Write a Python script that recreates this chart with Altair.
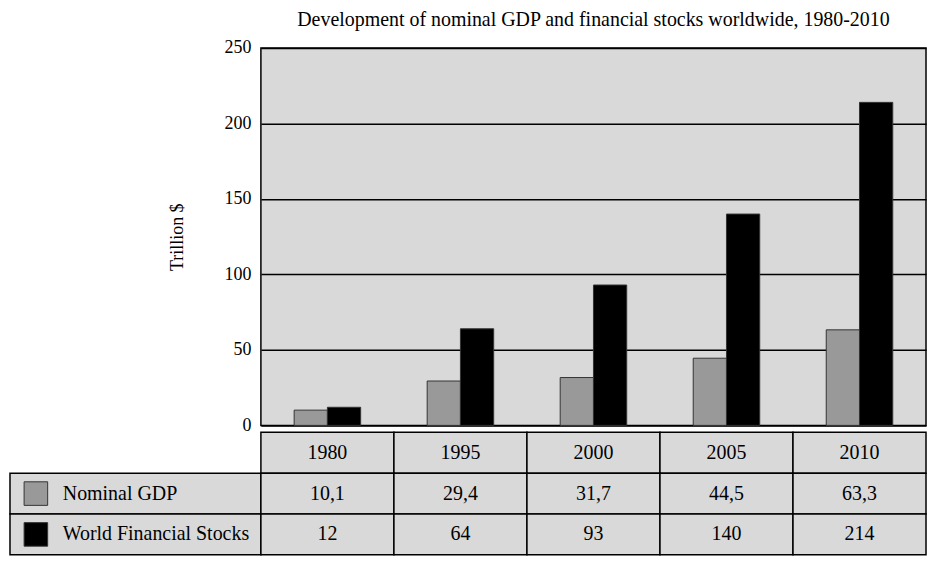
import altair as alt
import pandas as pd

# ---- data ----
years = ["1980", "1995", "2000", "2005", "2010"]
gdp = [10.1, 29.4, 31.7, 44.5, 63.3]
fin = [12, 64, 93, 140, 214]
series = ["Nominal GDP", "World Financial Stocks"]
gdp_labels = ["10,1", "29,4", "31,7", "44,5", "63,3"]
fin_labels = ["12", "64", "93", "140", "214"]
colors = ["#999999", "#000000"]
y_ticks = [0, 50, 100, 150, 200, 250]
rows = ["Year"] + series

FONT = "Liberation Serif"
GRAY_BG = "#d9d9d9"
PLOT_W = 668
LEG_W = 252
PLOT_H = 379
ROW_H = 41

bars_df = pd.DataFrame({
    "year": years * 2,
    "series": [series[0]] * len(years) + [series[1]] * len(years),
    "value": gdp + fin,
})

table_df = pd.DataFrame({
    "year": years * 3,
    "row": ["Year"] * 5 + [series[0]] * 5 + [series[1]] * 5,
    "label": years + gdp_labels + fin_labels,
})

leg_df = pd.DataFrame({"row": series, "col": ["legend"] * 2})

color_scale = alt.Scale(domain=series, range=colors)

# ---- bar chart ----
bars = alt.Chart(bars_df).mark_bar(stroke="#333333", strokeWidth=1).encode(
    x=alt.X("year:N", sort=years, axis=None,
            scale=alt.Scale(paddingInner=0, paddingOuter=0)),
    xOffset=alt.XOffset("series:N", sort=series,
                        scale=alt.Scale(paddingInner=0, paddingOuter=1)),
    y=alt.Y("value:Q", scale=alt.Scale(domain=[0, 250], nice=False),
            axis=alt.Axis(values=y_ticks, title="Trillion $", grid=True,
                          gridColor="#000000", gridWidth=1.5, ticks=False,
                          domain=False, labelFont=FONT, labelFontSize=18,
                          labelPadding=10, labelColor="#000000",
                          titleFont=FONT, titleFontSize=18,
                          titleFontWeight="normal", titlePadding=38,
                          titleColor="#000000")),
    color=alt.Color("series:N", scale=color_scale, legend=None),
).properties(
    width=PLOT_W, height=PLOT_H,
    view=alt.ViewBackground(fill=GRAY_BG, stroke="#000000", strokeWidth=1.5),
    title=alt.TitleParams(
        "Development of nominal GDP and financial stocks worldwide, 1980-2010",
        font=FONT, fontSize=20, fontWeight="normal", color="#000000",
        anchor="middle", offset=9),
)

spacer = alt.Chart(pd.DataFrame({"v": [0]})).mark_point(opacity=0).encode(
    x=alt.X("v:Q", axis=None), y=alt.Y("v:Q", axis=None)
).properties(width=LEG_W, height=PLOT_H,
             view=alt.ViewBackground(stroke="transparent"))

# ---- table: legend column ----
ybase = alt.Y("row:N", sort=rows, axis=None,
              scale=alt.Scale(domain=rows, paddingInner=0, paddingOuter=0))
xleg = alt.X("col:N", axis=None, scale=alt.Scale(paddingInner=0, paddingOuter=0))

leg_cells = alt.Chart(leg_df).mark_rect(
    fill=GRAY_BG, stroke="#000000", strokeWidth=1.5
).encode(x=xleg, y=ybase)

leg_swatch = alt.Chart(leg_df).mark_square(
    size=560, opacity=1, stroke="#333333", strokeWidth=1
).encode(
    x=alt.X("col:N", axis=None, bandPosition=0,
            scale=alt.Scale(paddingInner=0, paddingOuter=0)),
    xOffset=alt.value(26),
    y=ybase,
    fill=alt.Fill("row:N", scale=color_scale, legend=None),
)

leg_text = alt.Chart(leg_df).mark_text(
    font=FONT, fontSize=20, color="#000000", align="left", dx=53
).encode(
    x=alt.X("col:N", axis=None, bandPosition=0,
            scale=alt.Scale(paddingInner=0, paddingOuter=0)),
    y=ybase,
    text="row:N",
)

legend_col = alt.layer(leg_cells, leg_swatch, leg_text).properties(
    width=LEG_W, height=3 * ROW_H,
    view=alt.ViewBackground(stroke="transparent"))

# ---- table: value columns ----
tbase = alt.Chart(table_df).encode(
    x=alt.X("year:N", sort=years, axis=None,
            scale=alt.Scale(paddingInner=0, paddingOuter=0)),
    y=ybase,
)
t_cells = tbase.mark_rect(fill=GRAY_BG, stroke="#000000", strokeWidth=1.5)
t_text = tbase.mark_text(font=FONT, fontSize=20, color="#000000").encode(
    text="label:N")
values_tbl = alt.layer(t_cells, t_text).properties(
    width=PLOT_W, height=3 * ROW_H,
    view=alt.ViewBackground(stroke="transparent"))

chart = alt.concat(
    spacer, bars, legend_col, values_tbl,
    columns=2, spacing={"row": 7, "column": 0}, bounds="flush",
).properties(
    padding={"left": 0, "top": 0, "right": 0, "bottom": 0},
    background="#ffffff",
).resolve_scale(color="independent", fill="independent")

chart.save("out.html", embed_options={"renderer": "svg", "actions": False})
